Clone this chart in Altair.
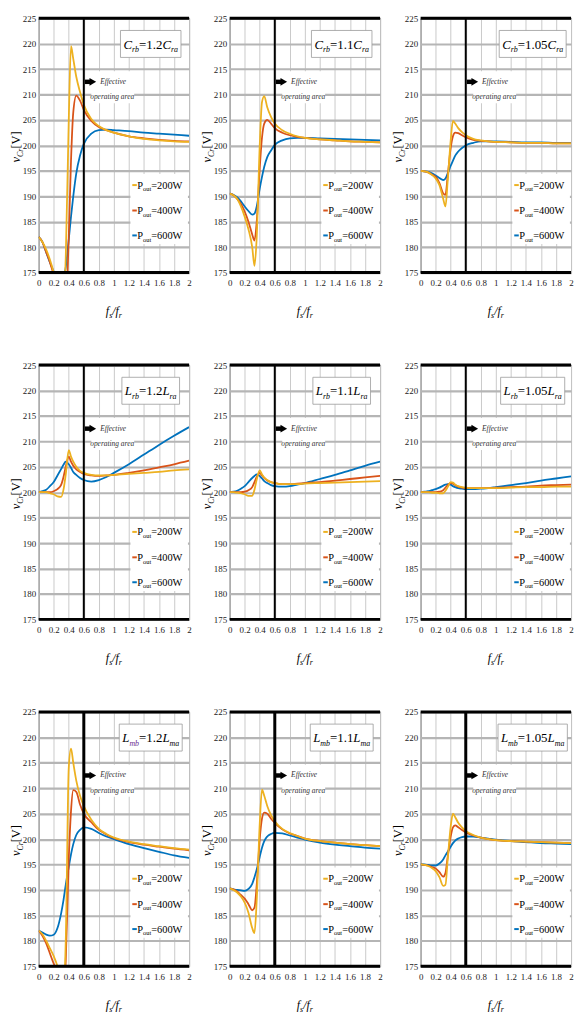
import altair as alt
import pandas as pd

# ---------------- data ----------------
X = [0, .05, .1, .15, .2, .25, .3, .33, .36, .4, .43, .46, .5, .55, .6, .7, .8, .9, 1.0, 1.2, 1.4, 1.6, 1.8, 2.0]
SERIES = ["200", "400", "600"]
COLORS = {"200": "#EDB120", "400": "#D95319", "600": "#0072BD"}
X_TICKS = [0, 0.2, 0.4, 0.6, 0.8, 1, 1.2, 1.4, 1.6, 1.8, 2]
Y_TICKS = [175, 180, 185, 190, 195, 200, 205, 210, 215, 220, 225]

C12_200 = [182, 181, 179.5, 177.5, 175, 172, 169, 169, 178, 205, 219.5, 217, 213.5, 210.5, 208, 205.2, 203.8, 203, 202.5, 201.8, 201.3, 201, 200.8, 200.7]
C12_400 = [182, 181, 179, 177, 174.5, 171.5, 168, 167, 168, 182, 197, 206.5, 209.8, 208.8, 207, 204.8, 203.6, 203, 202.5, 201.8, 201.4, 201.1, 200.9, 200.8]
C12_600 = [182, 181, 179, 177, 175.2, 174, 173.5, 174, 176, 181.5, 186, 190, 194.5, 198, 200.3, 202.3, 203, 203.1, 203, 202.8, 202.5, 202.3, 202.1, 201.9]

C11_200 = [190.5, 190.2, 189.5, 188, 186, 183.5, 180, 176.3, 182, 200, 208.5, 209.7, 207.5, 205.6, 204.3, 203, 202.3, 201.8, 201.5, 201.2, 201, 200.8, 200.7, 200.6]
C11_400 = [190.5, 190.2, 189.5, 188.5, 187, 185, 182.5, 181.3, 185, 195.5, 201.5, 204.3, 205, 204.3, 203.4, 202.5, 202, 201.7, 201.5, 201.2, 201, 200.8, 200.7, 200.6]
C11_600 = [190.5, 190.3, 189.8, 189, 188, 187.1, 186.4, 186.6, 188, 191.5, 193.8, 195.8, 197.7, 199, 200.1, 201, 201.4, 201.5, 201.5, 201.4, 201.3, 201.2, 201.1, 201]

C105_200 = [195, 194.9, 194.7, 194.2, 193.5, 192.2, 189.5, 188, 193, 201, 204.8, 204.3, 203.4, 202.6, 202, 201.3, 201, 200.8, 200.7, 200.6, 200.5, 200.5, 200.4, 200.4]
C105_400 = [195, 194.9, 194.7, 194.3, 193.8, 192.6, 190.6, 190.3, 194, 199.5, 201.8, 202.5, 202.4, 202, 201.6, 201.1, 200.9, 200.8, 200.7, 200.6, 200.5, 200.5, 200.4, 200.4]
C105_600 = [195, 194.9, 194.8, 194.5, 194.1, 193.6, 193.2, 193.5, 194.5, 196, 197, 198, 198.8, 199.5, 200, 200.5, 200.8, 200.8, 200.8, 200.7, 200.6, 200.6, 200.5, 200.5]

L12_200 = [200, 200, 200, 199.8, 199.6, 199.2, 199.1, 200.5, 203.5, 208.3, 207, 206, 205, 204.2, 203.8, 203.4, 203.3, 203.3, 203.4, 203.6, 203.8, 204, 204.3, 204.5]
L12_400 = [200, 200, 200, 200, 200.2, 200.6, 201.5, 203, 205, 207, 206, 205.2, 204.5, 204, 203.6, 203.3, 203.2, 203.3, 203.4, 203.8, 204.3, 204.9, 205.5, 206.2]
L12_600 = [200, 200.2, 200.5, 201.2, 202, 203.3, 204.6, 205.4, 206, 205.5, 204.8, 204, 203.4, 202.8, 202.4, 202.1, 202.4, 203, 203.8, 205.5, 207.4, 209.3, 211.1, 212.8]

L11_200 = [200, 200, 199.9, 199.8, 199.6, 199.3, 199.3, 200.5, 202.5, 204.3, 203.5, 202.9, 202.4, 202, 201.8, 201.6, 201.6, 201.6, 201.7, 201.8, 201.9, 202, 202.1, 202.2]
L11_400 = [200, 200, 200, 200, 200.1, 200.4, 201, 202, 203, 203.8, 203.3, 202.8, 202.3, 202, 201.8, 201.6, 201.6, 201.7, 201.8, 202, 202.3, 202.6, 202.9, 203.2]
L11_600 = [200, 200.1, 200.3, 200.7, 201.2, 202, 202.8, 203.2, 203.5, 203.2, 202.7, 202.2, 201.8, 201.4, 201.2, 201.1, 201.2, 201.5, 201.8, 202.6, 203.4, 204.3, 205.2, 206]

L105_200 = [200, 200, 200, 199.9, 199.9, 199.8, 199.8, 200.3, 201, 202, 201.9, 201.5, 201.2, 201, 200.9, 200.8, 200.8, 200.8, 200.8, 200.9, 201, 201, 201.1, 201.1]
L105_400 = [200, 200, 200, 200, 200, 200.1, 200.4, 200.9, 201.4, 201.8, 201.7, 201.4, 201.1, 200.9, 200.8, 200.8, 200.8, 200.8, 200.9, 201, 201.1, 201.3, 201.4, 201.5]
L105_600 = [200, 200.1, 200.2, 200.4, 200.6, 200.9, 201.3, 201.5, 201.6, 201.5, 201.2, 201, 200.8, 200.7, 200.6, 200.6, 200.7, 200.8, 201, 201.4, 201.8, 202.3, 202.7, 203.1]

M12_200 = [182, 181.3, 180, 178.5, 177, 175, 172, 170, 180, 214, 217.8, 215, 211.5, 208.5, 206.5, 203.8, 202, 201, 200.3, 199.5, 199, 198.6, 198.2, 197.9]
M12_400 = [182, 181, 179.5, 177.5, 175.5, 174, 170, 169, 176, 196, 205.5, 209.6, 209.3, 206.8, 205, 203.3, 201.8, 200.9, 200.2, 199.4, 198.9, 198.5, 198.1, 197.8]
M12_600 = [182, 181.6, 181.2, 181, 181.2, 182.5, 185.5, 188, 191, 194.5, 197, 199, 200.8, 201.8, 202.3, 202, 201.2, 200.5, 200, 199, 198.2, 197.5, 196.8, 196.3]

M11_200 = [190.3, 190, 189.5, 188.7, 187.5, 185.5, 182.5, 181.5, 188, 203, 209.7, 208.5, 206.5, 204.7, 203.5, 202, 201.2, 200.6, 200.1, 199.6, 199.3, 199, 198.8, 198.6]
M11_400 = [190.3, 190.1, 189.7, 189, 188.3, 187.2, 186, 186.5, 191, 200, 204, 205.2, 205, 204, 203.2, 201.9, 201.1, 200.6, 200.1, 199.6, 199.3, 199, 198.8, 198.6]
M11_600 = [190.3, 190.1, 190, 189.9, 189.8, 190.2, 191.2, 192.5, 194, 196.5, 198.3, 199.6, 200.5, 201, 201.2, 201.1, 200.7, 200.3, 199.9, 199.3, 198.9, 198.6, 198.3, 198.1]

M105_200 = [195, 194.9, 194.7, 194.3, 193.7, 192.5, 190.8, 191, 196, 202.5, 205, 204.3, 203.2, 202.3, 201.6, 200.8, 200.3, 200, 199.8, 199.6, 199.5, 199.4, 199.3, 199.2]
M105_400 = [195, 194.9, 194.8, 194.5, 194.2, 193.5, 192.6, 193.3, 196.5, 200.5, 202.3, 202.7, 202.3, 201.8, 201.3, 200.7, 200.3, 200, 199.8, 199.6, 199.5, 199.4, 199.3, 199.2]
M105_600 = [195, 195, 194.9, 194.8, 194.8, 195.2, 196, 196.8, 197.5, 198.5, 199.2, 199.7, 200.1, 200.4, 200.5, 200.5, 200.3, 200.1, 199.9, 199.6, 199.4, 199.2, 199.1, 199.0]

PURPLE = "#6a2c91"
PANELS = [
    ([("C", 1, 0), ("rb", 1, 1), ("=1.2", 0, 0), ("C", 1, 0), ("ra", 1, 1)], (C12_200, C12_400, C12_600), 2),
    ([("C", 1, 0), ("rb", 1, 1), ("=1.1", 0, 0), ("C", 1, 0), ("ra", 1, 1)], (C11_200, C11_400, C11_600), 2),
    ([("C", 1, 0), ("rb", 1, 1), ("=1.05", 0, 0), ("C", 1, 0), ("ra", 1, 1)], (C105_200, C105_400, C105_600), 2),
    ([("L", 1, 0), ("rb", 1, 1), ("=1.2", 0, 0), ("L", 1, 0), ("ra", 1, 1)], (L12_200, L12_400, L12_600), 2),
    ([("L", 1, 0), ("rb", 1, 1), ("=1.1", 0, 0), ("L", 1, 0), ("ra", 1, 1)], (L11_200, L11_400, L11_600), 2),
    ([("L", 1, 0), ("rb", 1, 1), ("=1.05", 0, 0), ("L", 1, 0), ("ra", 1, 1)], (L105_200, L105_400, L105_600), 2),
    ([("L", 1, 0), ("mb", 1, 1, PURPLE), ("=1.2", 0, 0), ("L", 1, 0), ("ma", 1, 1)], (M12_200, M12_400, M12_600), 3),
    ([("L", 1, 0), ("mb", 1, 1), ("=1.1", 0, 0), ("L", 1, 0), ("ma", 1, 1)], (M11_200, M11_400, M11_600), 3),
    ([("L", 1, 0), ("mb", 1, 1), ("=1.05", 0, 0), ("L", 1, 0), ("ma", 1, 1)], (M105_200, M105_400, M105_600), 3),
]
LEGEND_Y = [192.2, 187.2, 182.3]

# ---------------- layout / style ----------------
W, H = 152, 257
FONT = "Liberation Serif"
ONE = pd.DataFrame({"k": [0]})
XS = alt.Scale(domain=[0, 2], nice=False, zero=False)
YS = alt.Scale(domain=[175, 225], nice=False, zero=False)
XAX = alt.Axis(values=X_TICKS, format="~g", title=None, grid=True, gridColor="#c9c9c9", gridWidth=1,
               ticks=False, domain=False, labelFont=FONT, labelFontSize=9, labelColor="#222",
               labelPadding=6, labelFlush=False, labelOverlap=False)
YAX = alt.Axis(values=Y_TICKS, title=None, grid=True, gridColor="#b5b5b5", gridWidth=2.2,
               ticks=False, domain=False, labelFont=FONT, labelFontSize=9, labelColor="#222",
               labelPadding=3, labelFlush=False, labelOverlap=False)

REG = {'P': 556, 'o': 500, 'u': 500, 't': 278, '=': 564, 'W': 944, '.': 250, ' ': 250,
       '[': 333, 'V': 722, ']': 333, '/': 278, 'C': 667, 'L': 611, 'r': 333, 'a': 444, 'b': 500, 'm': 778}
ITA = {'C': 667, 'L': 556, 'r': 389, 'b': 500, 'a': 500, 'm': 722, 'v': 444, 'f': 278, 's': 389, '/': 278,
       'E': 611, 'e': 444, 'c': 444, 'i': 278, 't': 278, 'o': 500, 'p': 500, 'n': 500, 'g': 500, ' ': 250}


def twidth(text, italic, size):
    tab = ITA if italic else REG
    return sum(tab.get(ch, 500) for ch in text) * size / 1000.0


def xd(v):
    return alt.XDatum(v, scale=XS, axis=XAX)


def yd(v):
    return alt.YDatum(v, scale=YS, axis=YAX)


def text_runs(runs, x, y, size, sub, align="center", angle=0, px=False, color="black"):
    ws = [twidth(r[0], r[1], sub if r[2] else size) for r in runs]
    off = -sum(ws) / 2 if align == "center" else 0.0
    out = []
    for r, w in zip(runs, ws):
        t, it, sb = r[0], r[1], r[2]
        col = r[3] if len(r) > 3 else color
        fs = sub if sb else size
        dy = 0.34 * size + (0.26 * size if sb else 0)
        mk = alt.Chart(ONE).mark_text(
            text=t, font=FONT, fontSize=fs, fontStyle="italic" if it else "normal",
            align="left", baseline="alphabetic", dx=round(off, 2), dy=round(dy, 2),
            angle=angle, color=col)
        if px:
            enc = dict(x=alt.value(x), y=alt.value(y))
        else:
            enc = dict(x=xd(x), y=yd(y))
        out.append(mk.encode(**enc))
        off += w
    return out


def panel(p):
    label, data, vw = p
    rows = []
    for s, vals in zip(SERIES, data):
        for xv, yv in zip(X, vals):
            rows.append({"x": xv, "v": yv, "s": s})
    df = pd.DataFrame(rows)

    def curve(s):
        return alt.Chart(df).transform_filter(alt.datum.s == s).mark_line(
            color=COLORS[s], strokeWidth=1.8, interpolate="monotone", clip=True).encode(
            x=alt.X("x:Q", scale=XS, axis=XAX), y=alt.Y("v:Q", scale=YS, axis=YAX))

    layers = [curve("600")]
    # white backgrounds (legend, annotation text)
    layers.append(alt.Chart(ONE).mark_rect(color="white").encode(
        x=xd(1.22), x2=alt.X2Datum(1.985), y=yd(180.6), y2=alt.Y2Datum(194.4)))
    layers.append(alt.Chart(ONE).mark_rect(color="white").encode(
        x=xd(0.70), x2=alt.X2Datum(1.27), y=yd(208.3), y2=alt.Y2Datum(214.6)))
    layers.append(curve("400"))
    layers.append(curve("200"))

    # frame: thick top and bottom, vertical line at 0.6
    layers.append(alt.Chart(ONE).mark_rule(color="black", strokeWidth=3).encode(y=yd(225)))
    layers.append(alt.Chart(ONE).mark_rule(color="black", strokeWidth=3).encode(y=yd(175)))
    layers.append(alt.Chart(ONE).mark_rule(color="black", strokeWidth=vw).encode(x=xd(0.6)))

    # arrow + effective operating area
    layers.append(alt.Chart(ONE).mark_rule(color="black", strokeWidth=4.5).encode(
        x=xd(0.615), x2=alt.X2Datum(0.70), y=yd(212.5)))
    layers.append(alt.Chart(ONE).mark_point(shape="triangle-right", filled=True, color="black",
                                            size=60, opacity=1).encode(x=xd(0.72), y=yd(212.5)))
    layers += text_runs([("Effective", 1, 0)], 0.99, 212.6, 7.5, 5, color="#333")
    layers += text_runs([("operating area", 1, 0)], 0.98, 209.6, 7.5, 5, color="#333")

    # annotation box
    lw = sum(twidth(r[0], r[1], 8 if r[2] else 13) for r in label)
    half = (lw / 2 + 3) / (W / 2.0)
    layers.append(alt.Chart(ONE).mark_rect(color="white", stroke="#9a9a9a", strokeWidth=0.8).encode(
        x=xd(1.49 - half), x2=alt.X2Datum(min(1.49 + half, 1.99)), y=yd(217.3), y2=alt.Y2Datum(222.6)))
    layers += text_runs(label, 1.49, 219.9, 13, 8)

    # legend
    for s, ly in zip(SERIES, LEGEND_Y):
        layers.append(alt.Chart(ONE).mark_rule(color=COLORS[s], strokeWidth=2).encode(
            x=xd(1.245), x2=alt.X2Datum(1.305), y=yd(ly)))
        layers += text_runs([("P", 0, 0), ("out", 0, 1), ("=" + s + "W", 0, 0)], 1.31, ly, 10.5, 6.5,
                            align="left")

    # axis titles
    layers += text_runs([("v", 1, 0), ("Cr", 1, 1), (" [V]", 0, 0)], -23, H / 2, 12.5, 8,
                        angle=270, px=True)
    layers += text_runs([("f", 1, 0), ("s", 1, 1), ("/", 1, 0), ("f", 1, 0), ("r", 1, 1)], W / 2, H + 39, 12, 8,
                        px=True)

    return alt.layer(*layers).properties(width=W, height=H)


rows = []
for i in range(3):
    rows.append(alt.HConcatChart(hconcat=[panel(p) for p in PANELS[3 * i:3 * i + 3]], spacing=8))

chart = alt.VConcatChart(vconcat=rows, spacing=39.5).properties(
    padding={"left": 1, "top": 0, "right": 0, "bottom": 0}
).configure_view(stroke="#333", strokeWidth=1)

chart.save("out.html", embed_options={"renderer": "svg", "actions": False})
